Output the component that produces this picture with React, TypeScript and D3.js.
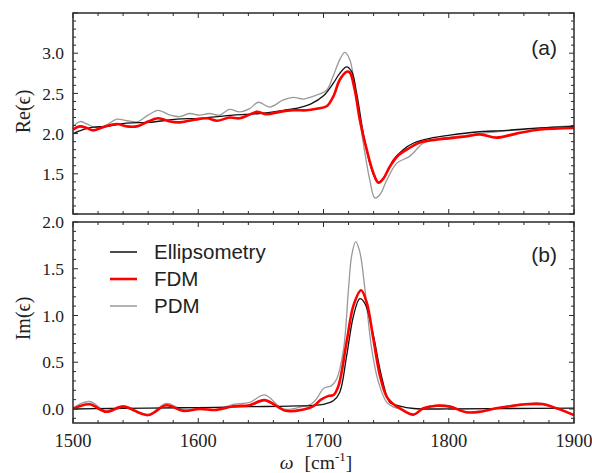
import React from 'react';
import * as d3 from 'd3';

const W = 592;
const H = 473;

const xMajorTicks = [1500, 1600, 1700, 1800, 1900];
const reTickLabels = [1.5, 2.0, 2.5, 3.0];
const imTickLabels = [0.0, 0.5, 1.0, 1.5, 2.0];
const seriesNames = ['Ellipsometry', 'FDM', 'PDM'];
const panelLabels = ['(a)', '(b)'];

// Re(eps)
const reEllipsometry: [number, number][] = [
  [1500, 2.0], [1508, 2.05], [1516, 2.08], [1527, 2.09], [1543, 2.13], [1561, 2.14], [1583, 2.18],
  [1601, 2.19], [1628, 2.23], [1649, 2.25], [1668, 2.29], [1680, 2.32], [1690, 2.37], [1700, 2.47],
  [1708, 2.63], [1713, 2.75], [1718.5, 2.83], [1722.5, 2.77], [1726.5, 2.5], [1731.8, 2.0],
  [1737, 1.63], [1742, 1.42], [1745, 1.39], [1750.5, 1.51], [1755.6, 1.67], [1763.6, 1.8],
  [1771.6, 1.88], [1785, 1.94], [1801, 1.98], [1822, 2.02], [1846, 2.04], [1873, 2.07], [1900, 2.09],
];
const reFDM: [number, number][] = [
  [1500, 2.05], [1505.6, 2.09], [1511, 2.07], [1516, 2.04], [1524, 2.08], [1535, 2.12], [1543, 2.09],
  [1551, 2.09], [1560, 2.15], [1568, 2.19], [1577.5, 2.15], [1585, 2.14], [1596, 2.17], [1607, 2.19],
  [1615, 2.16], [1625, 2.2], [1633, 2.19], [1640, 2.23], [1646.6, 2.27], [1654.6, 2.24], [1665, 2.27],
  [1676, 2.29], [1686.5, 2.29], [1694.6, 2.31], [1702.5, 2.34], [1707.8, 2.46], [1713, 2.67],
  [1718.5, 2.77], [1721, 2.76], [1725, 2.54], [1729, 2.17], [1734.5, 1.8], [1739.8, 1.51],
  [1743.8, 1.39], [1747.8, 1.44], [1753, 1.59], [1759.8, 1.73], [1766.5, 1.8], [1777, 1.89],
  [1793, 1.93], [1811.6, 1.96], [1825, 1.99], [1838, 1.95], [1854, 2.0], [1873, 2.05], [1900, 2.07],
];
const rePDM: [number, number][] = [
  [1500, 2.09], [1505.6, 2.15], [1511, 2.12], [1519, 2.07], [1527, 2.11], [1535, 2.18], [1543, 2.16],
  [1552, 2.15], [1560, 2.23], [1568, 2.29], [1577.5, 2.23], [1585, 2.21], [1593, 2.25], [1601, 2.23],
  [1609, 2.25], [1617, 2.23], [1625, 2.3], [1633, 2.27], [1641, 2.31], [1648, 2.39], [1657, 2.33],
  [1668, 2.42], [1676, 2.45], [1684, 2.43], [1694.6, 2.48], [1702.5, 2.54], [1707.6, 2.71],
  [1713, 2.92], [1717, 3.01], [1721, 2.92], [1726.5, 2.42], [1731.8, 1.88], [1737, 1.42],
  [1741, 1.2], [1745, 1.24], [1750.5, 1.42], [1758.4, 1.63], [1769, 1.72], [1779.6, 1.88],
  [1793, 1.94], [1810, 1.97], [1830, 2.01], [1850, 2.04], [1875, 2.07], [1900, 2.1],
];

// Im(eps)
const imEllipsometry: [number, number][] = [
  [1500, 0.0], [1530, 0.005], [1560, 0.01], [1600, 0.015], [1640, 0.025], [1673, 0.03], [1700, 0.05],
  [1708, 0.09], [1713, 0.18], [1718.5, 0.57], [1724, 1.0], [1729, 1.18], [1733, 1.13], [1739.8, 0.79],
  [1745, 0.43], [1750.5, 0.14], [1753, 0.07], [1761, 0.03], [1772, 0.005], [1800, 0.0], [1850, 0.005],
  [1900, 0.01],
];
const imFDM: [number, number][] = [
  [1500, 0.0], [1513, 0.05], [1526.6, -0.03], [1540, 0.025], [1560, -0.065], [1574.5, 0.04],
  [1588, -0.02], [1601, 0.0], [1614.6, -0.01], [1628, 0.03], [1641, 0.04], [1653, 0.095],
  [1670, -0.02], [1684, -0.005], [1692, 0.03], [1698, 0.1], [1704, 0.14], [1708, 0.15], [1712, 0.25],
  [1718.5, 0.72], [1724, 1.11], [1730, 1.27], [1734.5, 1.14], [1739.8, 0.75], [1745, 0.36],
  [1750.5, 0.13], [1756, 0.05], [1761, 0.007], [1771.7, -0.06], [1779.7, 0.007], [1790, 0.035],
  [1801, 0.025], [1814, -0.035], [1825, -0.03], [1838, 0.007], [1849, 0.03], [1862, 0.05],
  [1875.5, 0.05], [1886, 0.007], [1900, -0.065],
];
const imPDM: [number, number][] = [
  [1500, 0.01], [1513, 0.08], [1526.6, -0.02], [1540, 0.035], [1560, -0.06], [1574.5, 0.06],
  [1588, -0.01], [1601, 0.005], [1614.6, -0.005], [1628, 0.05], [1641, 0.07], [1653, 0.15],
  [1668, 0.0], [1684, 0.03], [1690, 0.05], [1694.6, 0.11], [1700, 0.22], [1706.5, 0.25],
  [1710.5, 0.32], [1716, 0.64], [1720, 1.29], [1722.5, 1.64], [1725.7, 1.79], [1729, 1.68],
  [1733, 1.29], [1738.5, 0.64], [1743.8, 0.29], [1750.5, 0.07], [1756, 0.02], [1761, 0.0],
  [1771.7, -0.06], [1779.7, 0.01], [1790, 0.04], [1801, 0.03], [1814, -0.03], [1825, -0.025],
  [1838, 0.01], [1849, 0.035], [1862, 0.06], [1875.5, 0.06], [1886, 0.01], [1900, -0.06],
];

const COLORS = { ell: '#111111', fdm: '#ff0000', pdm: '#999999' };
const WIDTHS = { ell: 1.3, fdm: 2.6, pdm: 1.3 };

const L = 73, R = 574;
const TOP_A = 13, BOT_A = 214, TOP_B = 222, BOT_B = 423;
const SERIF = '"Liberation Serif", "Times New Roman", serif';
const SANS = '"Liberation Sans", Arial, sans-serif';

function Panel({ y, top, bottom, id, children }: any) {
  const x = d3.scaleLinear().domain([1500, 1900]).range([L, R]);
  const xMinor = d3.range(1500, 1901, 20);
  const [y0, y1] = y.domain();
  const yMinor = d3.range(Math.ceil(y0 * 10), Math.floor(y1 * 10) + 1).map((d: number) => d / 10);
  const frame = '#2a2a2a';
  return (
    <g>
      <defs>
        <clipPath id={id}>
          <rect x={L} y={top} width={R - L} height={bottom - top} />
        </clipPath>
      </defs>
      <g clipPath={`url(#${id})`}>{children}</g>
      {xMinor.map((t: number) => {
        const major = t % 100 === 0;
        const len = major ? 5 : 3;
        return (
          <g key={'x' + t}>
            <line x1={x(t)} x2={x(t)} y1={bottom} y2={bottom - len} stroke={frame} strokeWidth={1} />
            <line x1={x(t)} x2={x(t)} y1={top} y2={top + len} stroke={frame} strokeWidth={1} />
          </g>
        );
      })}
      {yMinor.map((t: number) => {
        const major = Math.abs(Math.round(t * 10) % 5) === 0;
        const len = major ? 5 : 3;
        return (
          <g key={'y' + t}>
            <line x1={L} x2={L + len} y1={y(t)} y2={y(t)} stroke={frame} strokeWidth={1} />
            <line x1={R} x2={R - len} y1={y(t)} y2={y(t)} stroke={frame} strokeWidth={1} />
          </g>
        );
      })}
      <rect x={L} y={top} width={R - L} height={bottom - top} fill="none" stroke={frame} strokeWidth={1.5} />
    </g>
  );
}

export default function App() {
  const x = d3.scaleLinear().domain([1500, 1900]).range([L, R]);
  const yRe = d3.scaleLinear().domain([1.0, 3.5]).range([BOT_A, TOP_A]);
  const yIm = d3.scaleLinear().domain([-0.15, 2.0]).range([BOT_B, TOP_B]);
  const curve = d3.curveCatmullRom.alpha(0.5);
  const lineRe = d3.line<[number, number]>().x((d) => x(d[0])).y((d) => yRe(d[1])).curve(curve);
  const lineIm = d3.line<[number, number]>().x((d) => x(d[0])).y((d) => yIm(d[1])).curve(curve);

  const legendKeys: ('ell' | 'fdm' | 'pdm')[] = ['ell', 'fdm', 'pdm'];
  const legendY = [252, 279, 306];

  return (
    <svg width={W} height={H} style={{ position: 'absolute', left: 0, top: 0, background: '#fff' }}>
      <rect x={0} y={0} width={W} height={H} fill="#fff" />
      <Panel y={yRe} top={TOP_A} bottom={BOT_A} id="clipA">
        <path d={lineRe(rePDM) || ''} fill="none" stroke={COLORS.pdm} strokeWidth={WIDTHS.pdm} />
        <path d={lineRe(reEllipsometry) || ''} fill="none" stroke={COLORS.ell} strokeWidth={WIDTHS.ell} />
        <path d={lineRe(reFDM) || ''} fill="none" stroke={COLORS.fdm} strokeWidth={WIDTHS.fdm} />
      </Panel>
      <Panel y={yIm} top={TOP_B} bottom={BOT_B} id="clipB">
        <path d={lineIm(imPDM) || ''} fill="none" stroke={COLORS.pdm} strokeWidth={WIDTHS.pdm} />
        <path d={lineIm(imEllipsometry) || ''} fill="none" stroke={COLORS.ell} strokeWidth={WIDTHS.ell} />
        <path d={lineIm(imFDM) || ''} fill="none" stroke={COLORS.fdm} strokeWidth={WIDTHS.fdm} />
      </Panel>

      {reTickLabels.map((t) => (
        <text key={'rl' + t} x={64} y={yRe(t)} dy="0.35em" textAnchor="end" fontFamily={SERIF} fontSize={17.5} fill="#222">
          {t.toFixed(1)}
        </text>
      ))}
      {imTickLabels.map((t) => (
        <text key={'il' + t} x={64} y={yIm(t)} dy="0.35em" textAnchor="end" fontFamily={SERIF} fontSize={17.5} fill="#222">
          {t.toFixed(1)}
        </text>
      ))}
      {xMajorTicks.map((t) => (
        <text key={'xl' + t} x={x(t)} y={447} textAnchor="middle" fontFamily={SERIF} fontSize={18.5} fill="#222">
          {t}
        </text>
      ))}

      <text transform={`translate(30,${(TOP_A + BOT_A) / 2 - 2}) rotate(-90)`} textAnchor="middle" fontFamily={SERIF} fontSize={20} fill="#222">
        Re(ϵ)
      </text>
      <text transform={`translate(30,${(TOP_B + BOT_B) / 2 - 4}) rotate(-90)`} textAnchor="middle" fontFamily={SERIF} fontSize={20} fill="#222">
        Im(ϵ)
      </text>

      <text x={316} y={469} textAnchor="middle" fontFamily={SERIF} fontSize={19.5} fill="#222">
        <tspan fontStyle="italic">ω</tspan>
        <tspan dx={11}>[cm</tspan>
        <tspan dy={-8} fontSize={13}>-1</tspan>
        <tspan dy={8}>]</tspan>
      </text>

      <text x={557} y={55} textAnchor="end" fontFamily={SANS} fontSize={21} fill="#222">{panelLabels[0]}</text>
      <text x={557} y={262} textAnchor="end" fontFamily={SANS} fontSize={21} fill="#222">{panelLabels[1]}</text>

      {legendKeys.map((k, i) => (
        <g key={k}>
          <line x1={110} x2={137} y1={legendY[i]} y2={legendY[i]} stroke={COLORS[k]} strokeWidth={k === 'fdm' ? 2.6 : 1.5} />
          <text x={154} y={legendY[i]} dy="0.36em" fontFamily={SANS} fontSize={20.5} fill="#222">
            {seriesNames[i]}
          </text>
        </g>
      ))}
    </svg>
  );
}
